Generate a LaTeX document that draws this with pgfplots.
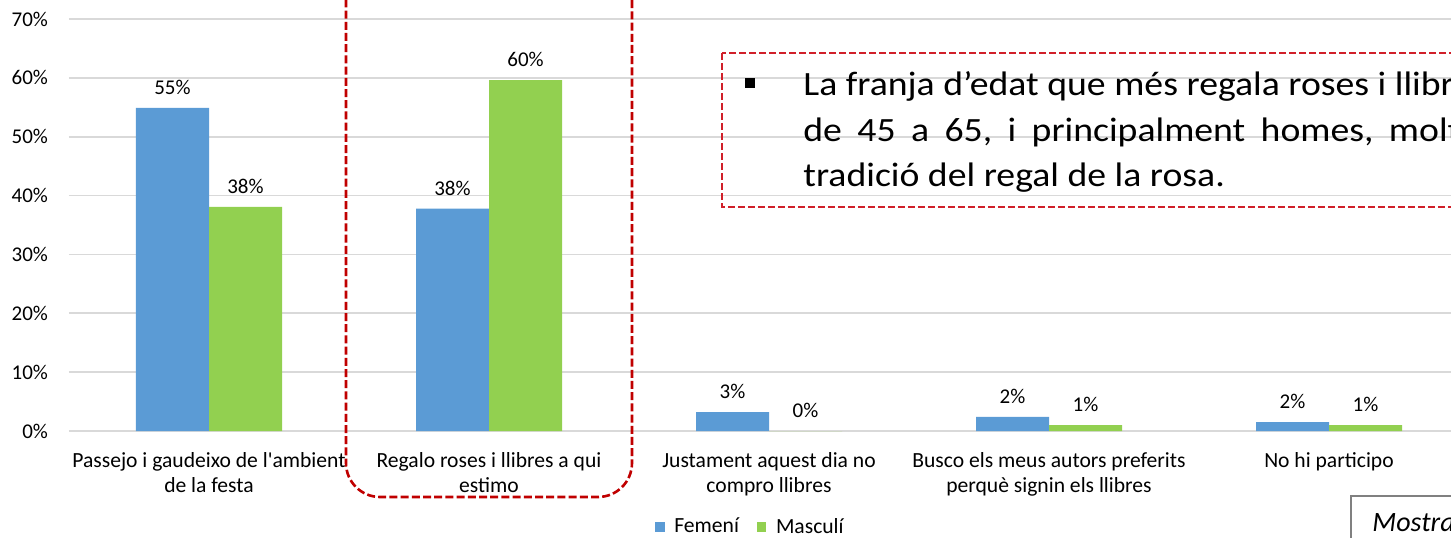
\documentclass[border=0pt]{standalone}
\usepackage{pgfplots}
\pgfplotsset{compat=1.18}
\usepackage{fontspec}
\setmainfont{Carlito}[Ligatures=TeXOff]
\newfontfamily\boxfont{Carlito}[Ligatures=TeXOff, FakeStretch=1.11]
\definecolor{fem}{HTML}{5B9BD5}
\definecolor{mas}{HTML}{92D050}
\definecolor{boxred}{HTML}{C00000}
\definecolor{boxred2}{HTML}{D0202A}
\definecolor{gridc}{HTML}{D9D9D9}
\begin{document}
\begin{tikzpicture}[x=0.5pt,y=0.5pt]
\useasboundingbox (0,0) rectangle (1451,537);
\clip (0,0) rectangle (1451,537);
\begin{axis}[
  at={(34.5pt,53pt)}, anchor=south west,
  scale only axis, width=700pt, height=206pt,
  xmin=-0.5, xmax=4.5, ymin=0, ymax=70,
  ybar=0pt, bar width=36.5pt,
  axis line style={draw=none},
  ymajorgrids, grid style={gridc, line width=0.8pt},
  major tick length=0pt,
  xtick={0,1,2,3,4},
  xticklabels={{Passejo i gaudeixo de l'ambient\\de la festa},
               {Regalo roses i llibres a qui\\estimo},
               {Justament aquest dia no\\compro llibres},
               {Busco els meus autors preferits\\perquè signin els llibres},
               {No hi participo}},
  xticklabel style={align=center, yshift=-7pt, font=\fontsize{10.8}{12.5}\selectfont},
  ytick={0,10,...,70},
  yticklabel={\pgfmathprintnumber{\tick}\%},
  yticklabel style={xshift=-7pt, font=\fontsize{10.5}{12}\selectfont},
  /pgf/number format/assume math mode=true,
  nodes near coords={\pgfmathprintnumber[fixed,precision=0]{\pgfplotspointmeta}\%},
  nodes near coords style={font=\fontsize{10.5}{12}\selectfont, black, yshift=3pt},
  legend columns=2,
  area legend,
  legend style={at={(0.4875,-0.233)}, anchor=center, draw=none, fill=none,
    font=\fontsize{10.8}{12}\selectfont,
    /tikz/every even column/.append style={column sep=7pt}},
  legend image code/.code={\fill[#1] (0pt,-2.3pt) rectangle (4.6pt,2.3pt); \path (7.5pt,0pt);},
]
\addplot[fill=fem, draw=none] coordinates {(0,54.9) (1,37.8) (2,3.2) (3,2.4) (4,1.5)};
\addplot[fill=mas, draw=none] coordinates {(0,38.1) (1,59.6) (2,0) (3,1.0) (4,1.0)};
\legend{Femení, Masculí}
\end{axis}
% dashed rounded highlight around second category
\draw[boxred, line width=1.3pt, dash pattern=on 4pt off 1.6pt, rounded corners=17pt]
  (346,560) -- (346,40) -- (632,40) -- (632,560);
% text box
\draw[boxred2, line width=0.75pt, dash pattern=on 3.3pt off 1.7pt]
  (722,484) rectangle (1470,330);
\fill[black] (745,449) rectangle (755,459);
\begin{scope}[every node/.style={anchor=base west, inner sep=0pt, font=\boxfont\fontsize{17}{20}\selectfont}]
\node at (803,441.3) {La franja d’edat que més regala roses i llibres és la franja};
\node at (803,395.3) {{\spaceskip=7.7pt de 45 a 65, i principalment homes, molt lligats a la}};
\node at (803,350.3) {tradició del regal de la rosa.};
\end{scope}
% Mostra box
\draw[gray, line width=0.7pt] (1351,-10) -- (1351,41) -- (1470,41);
\node[anchor=base west, inner sep=0pt, font=\fontsize{14}{16}\selectfont\itshape] at (1372,6) {Mostra};
\end{tikzpicture}
\end{document}
